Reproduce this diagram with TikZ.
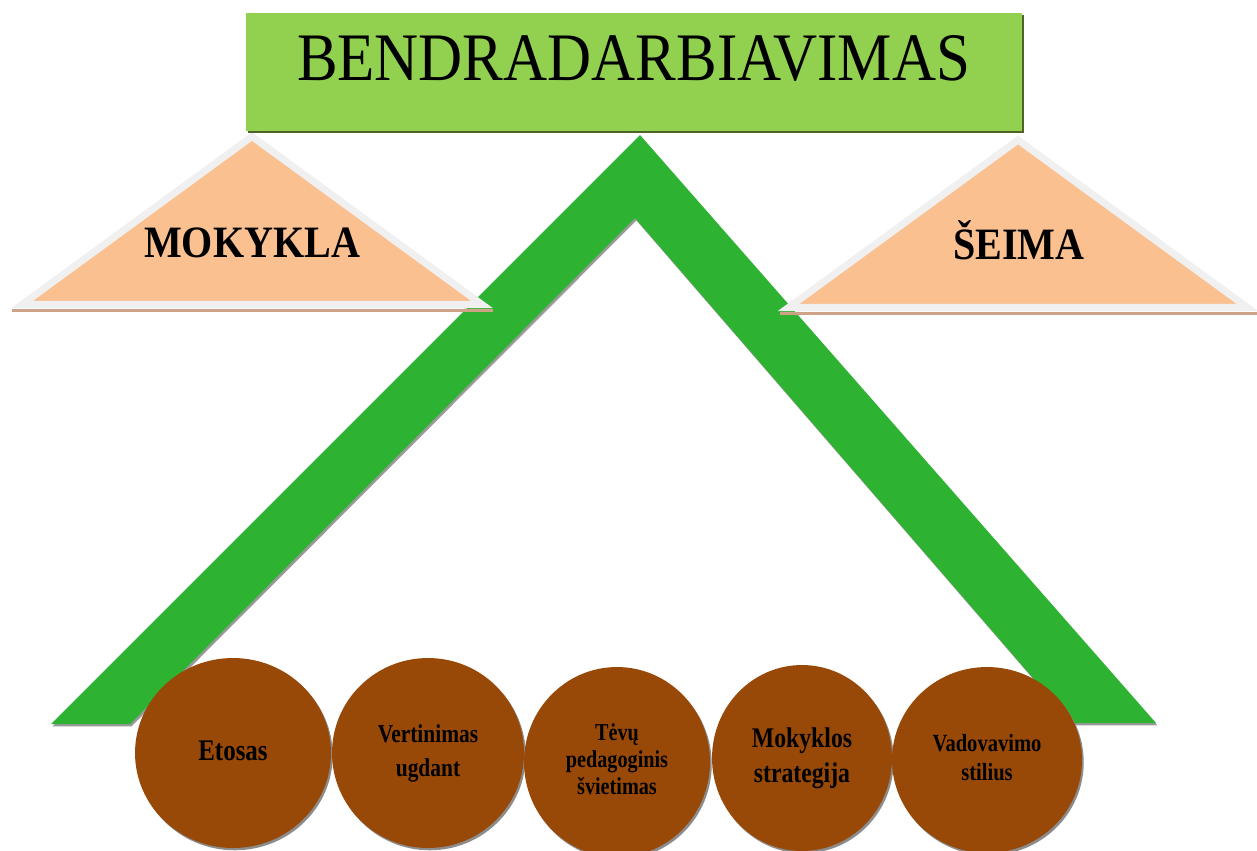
\documentclass[tikz,border=0pt]{standalone}
\usepackage{fontspec}
\setmainfont{Liberation Serif}
\usetikzlibrary{shapes.geometric,shadows}
\definecolor{titlegreen}{HTML}{92D050}
\definecolor{titleshade}{HTML}{4F6228}
\definecolor{roofgreen}{HTML}{2DB232}
\definecolor{peach}{HTML}{FAC090}
\definecolor{rim}{HTML}{F0F0F0}
\definecolor{baseshade}{HTML}{CFA286}
\definecolor{brownfill}{HTML}{984807}
\newcommand{\tallbox}[2][1.2]{\scalebox{1}[#1]{\begin{tabular}{@{}c@{}}#2\end{tabular}}}
\tikzset{
  titlebox/.style={fill=titlegreen,minimum width=15.52cm,minimum height=2.36cm,
    drop shadow={shadow xshift=1.1pt,shadow yshift=-1.3pt,fill=titleshade,opacity=1}},
  roof/.style={fill=roofgreen,
    drop shadow={shadow xshift=0.8pt,shadow yshift=-1.4pt,fill=black!40,opacity=1}},
  corner/.style={fill=peach,draw=rim,line width=4pt,line join=miter},
  cornershade/.style={draw=baseshade,line width=1.7pt},
  ring/.style={ellipse,fill=brownfill,inner sep=0pt,
    drop shadow={shadow xshift=1pt,shadow yshift=-1.3pt,fill=black!45,opacity=1}},
  cornertext/.style={font=\fontsize{22.8}{26}\selectfont\bfseries,inner sep=0pt,anchor=base}
}
\begin{document}
\begin{tikzpicture}[x=0.02cm,y=-0.02cm]
        \useasboundingbox (0,0) rectangle (1257,850);
        \fill[roof] (51,724) -- (640,135) -- (1156,723) -- (1072,723) -- (635,218) -- (130,724) -- cycle;
        \draw[cornershade] (12,310.5) -- (493,310.5);
        \draw[corner] (252,136.5) -- (482,304.5) -- (22,304.5) -- cycle;
        \draw[cornershade] (780,313) -- (1257,313);
        \draw[corner] (1018,140) -- (1247.5,307.5) -- (788.5,307.5) -- cycle;
        \node[cornertext] (school) at (252,257) {\scalebox{1}[1.12]{MOKYKLA}};
        \node[cornertext] (family) at (1019,259) {\scalebox{1}[1.12]{ŠEIMA}};
        \node[titlebox] (title) at (634,72) {};
        \node[inner sep=0pt] (titletext) at (633.5,58.5) {\resizebox{13.46cm}{0.9cm}{BENDRADARBIAVIMAS}};
        \node[ring,minimum width=3.92cm,minimum height=3.8cm,font=\fontsize{14.2}{17}\selectfont\bfseries] (etosas) at (233,753) {\tallbox{Etosas}};
        \node[ring,minimum width=3.84cm,minimum height=3.8cm,font=\fontsize{12.2}{16}\selectfont\bfseries] (vertinimas) at (428,753) {\tallbox{Vertinimas\\ugdant}};
        \node[ring,minimum width=3.72cm,minimum height=3.8cm,font=\fontsize{11.5}{12.8}\selectfont\bfseries] (svietimas) at (617,762) {\tallbox{Tėvų\\pedagoginis\\švietimas}};
        \node[ring,minimum width=3.6cm,minimum height=3.72cm,font=\fontsize{13.5}{16.5}\selectfont\bfseries] (strategija) at (802,758) {\tallbox{Mokyklos\\strategija}};
        \node[ring,minimum width=3.8cm,minimum height=3.72cm,font=\fontsize{11.7}{14.2}\selectfont\bfseries] (stilius) at (987,760) {\tallbox{Vadovavimo\\stilius}};
\end{tikzpicture}
\end{document}
